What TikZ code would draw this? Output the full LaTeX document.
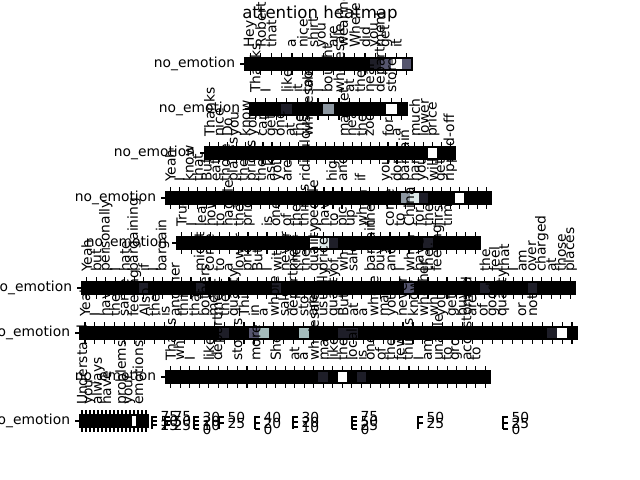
\documentclass[tikz,border=0pt]{standalone}
\usepackage{fontspec}
\setmainfont{DejaVu Sans}
\usepackage{xcolor}
\definecolor{bonedark}{HTML}{1E1E28}
\definecolor{boneslate}{HTML}{55556E}
\definecolor{bonemid}{HTML}{8C96A0}
\definecolor{bonelight}{HTML}{A4BCBC}
\definecolor{bonepale}{HTML}{DCE8E8}

% one heatmap row: name, y centre, left, right, tokens, coloured cells
\newcommand{\heatrow}[6]{%
  \foreach \wrd [count=\cnt] in {#5} {\xdef\ncells{\cnt}}
  \pgfmathsetmacro{\cw}{(#4-#3)/\ncells}
  \fill[black] (#3,#2-6) rectangle (#4,#2+6);
  \foreach \idx/\clr in {#6} {
    \fill[\clr] ({#3+(\idx-1)*\cw},#2-6) rectangle ({#3+\idx*\cw},#2+6);
  }
  \draw[cellframe] (#3,#2-6) rectangle (#4,#2+6);
  \draw[tickmark] (#3,#2) -- ++(-4.9,0);
  \node[rowlabel] (#1-name) at (#3-9.7,#2) {no\_emotion};
  \foreach \wrd [count=\idx] in {#5} {
    \pgfmathsetmacro{\xc}{#3+(\idx-0.5)*\cw}
    \draw[tickmark] (\xc,#2-6) -- ++(0,-4.9);
    \draw[tickmark] (\xc,#2+6) -- ++(0,4.9);
    \node[toplabel] (#1-\idx) at (\xc,#2-15.8) {\wrd};
  }
}

% one squashed colour bar: name, x, ticks as y/label
\newcommand{\cbar}[3]{%
  \draw[tickmark] (#2,416) -- (#2,429);
  \foreach \yy/\lab [count=\idx] in {#3} {
    \draw[tickmark] (#2,\yy) -- ++(4.9,0);
    \node[cblabel] (#1-\idx) at (#2+8.4,\yy) {\lab};
  }
}

\begin{document}
\begin{tikzpicture}[x=0.01in, y=-0.01in,
  cellframe/.style={draw=black, line width=0.8pt},
  tickmark/.style={draw=black, line width=0.8pt},
  toplabel/.style={rotate=90, anchor=west, inner sep=0pt, font=\fontsize{10}{12}\selectfont},
  rowlabel/.style={anchor=east, inner sep=0pt, font=\fontsize{10}{12}\selectfont},
  cblabel/.style={anchor=west, inner sep=0pt, font=\fontsize{10}{12}\selectfont},
  titletext/.style={font=\fontsize{12}{14}\selectfont}
]
  \useasboundingbox (0,0) rectangle (640,480);

  % Title
  \node[titletext] (title) at (320,14) {attention heatmap};

  % Heatmap rows
  \heatrow{rowa}{64}{245}{412}{Hey,Robert,that,{},a,nice,shirt,you,are,wearing,Where,did,you,get,it,{}}{13/bonedark,14/boneslate,15/white,16/boneslate}
  \heatrow{rowb}{109}{250}{407}{Thanks,I,{},like,it,too,I,bought,wholesale,at,the,near,department,store,{}}{4/bonedark,8/bonemid,14/white}
  \heatrow{rowc}{153}{205}{455}{Thanks,nice,Do,you,know,you,can,get,one,at,the,wholesale,{},{},{},market,near,the,zoo,{},for,a,{},much,lower,price,{},{}}{26/white}
  \heatrow{rowd}{198}{166}{491}{Yeah,I,know,that,But,eat,those,places,the,prices,the,ask,you,are,{},ridiculously,{},{},high,and,{},if,{},{},you,don,bargain,hard,you,will,get,ripped-off,{},{},{},{}}{27/bonemid,28/bonepale,29/bonedark,33/white}
  \heatrow{rowe}{243}{177}{480}{True,I,learn,how,to,haggle,the,price,{},is,one,of,the,things,people,have,to,pick,up,when,they,{},come,to,China,for,the,first,time,{},{},{}}{15/white,16/bonepale,17/bonedark,27/bonedark}
  \heatrow{rowf}{288}{82}{575}{Yeah,but,personally,I,hate,bargaining,if,I,bargain,{},{},{},might,come,to,a,lower,price,But,I,with,never,know,the,quality,price,of,what,sale,{},bargain,buy,and,I,when,have,the,feeling,{},{},{},{},the,feel,that,I,am,over,charged,at,those,places}{7/bonedark,13/bonedark,21/bonedark,35/boneslate,43/bonedark,48/bonedark}
  \heatrow{rowg}{333}{80}{577}{Yeah,I,have,the,same,feeling,Also,the,is,another,thing,that,bothers,me,the,quality,This,in,a,whole,sale,department,store,are,usually,quality,But,at,a,whole,mall,you,never,know,whether,what,you,get,buy,are,of,good,quality,{},or,not,{},{},{},{}}{15/bonedark,18/boneslate,19/bonelight,23/bonelight,27/bonedark,28/bonedark,48/bonedark,49/white}
  \heatrow{rowh}{377}{166}{490}{That's,why,I,{},like,department,{},stores,{},more,{},She,{},at,a,wholesale,mall,like,the,local,is,one,of,the,few,things,I,am,unable,to,grow,accustomed,to,{}}{17/bonedark,19/white,21/bonedark}
  \heatrow{rowi}{421}{80}{148}{Understand,{},you,{},always,{},have,{},{},{},problems,{},your,{},emotions,{},{}}{14/white}

  % Colour bars
  \cbar{cba}{152}{425/25,421/50,417/75}
  \cbar{cbb}{165}{425/25,421/50,417/75}
  \cbar{cbc}{194}{429/0,425/10,421/20,417/30}
  \cbar{cbd}{219}{423/25,417/50}
  \cbar{cbe}{255}{429/0,423/20,417/40}
  \cbar{cbf}{293}{427/10,422/20,417/30}
  \cbar{cbg}{352}{429/0,425/25,421/50,417/75}
  \cbar{cbh}{418}{423/25,417/50}
  \cbar{cbi}{503}{429/0,423/25,417/50}
\end{tikzpicture}
\end{document}
